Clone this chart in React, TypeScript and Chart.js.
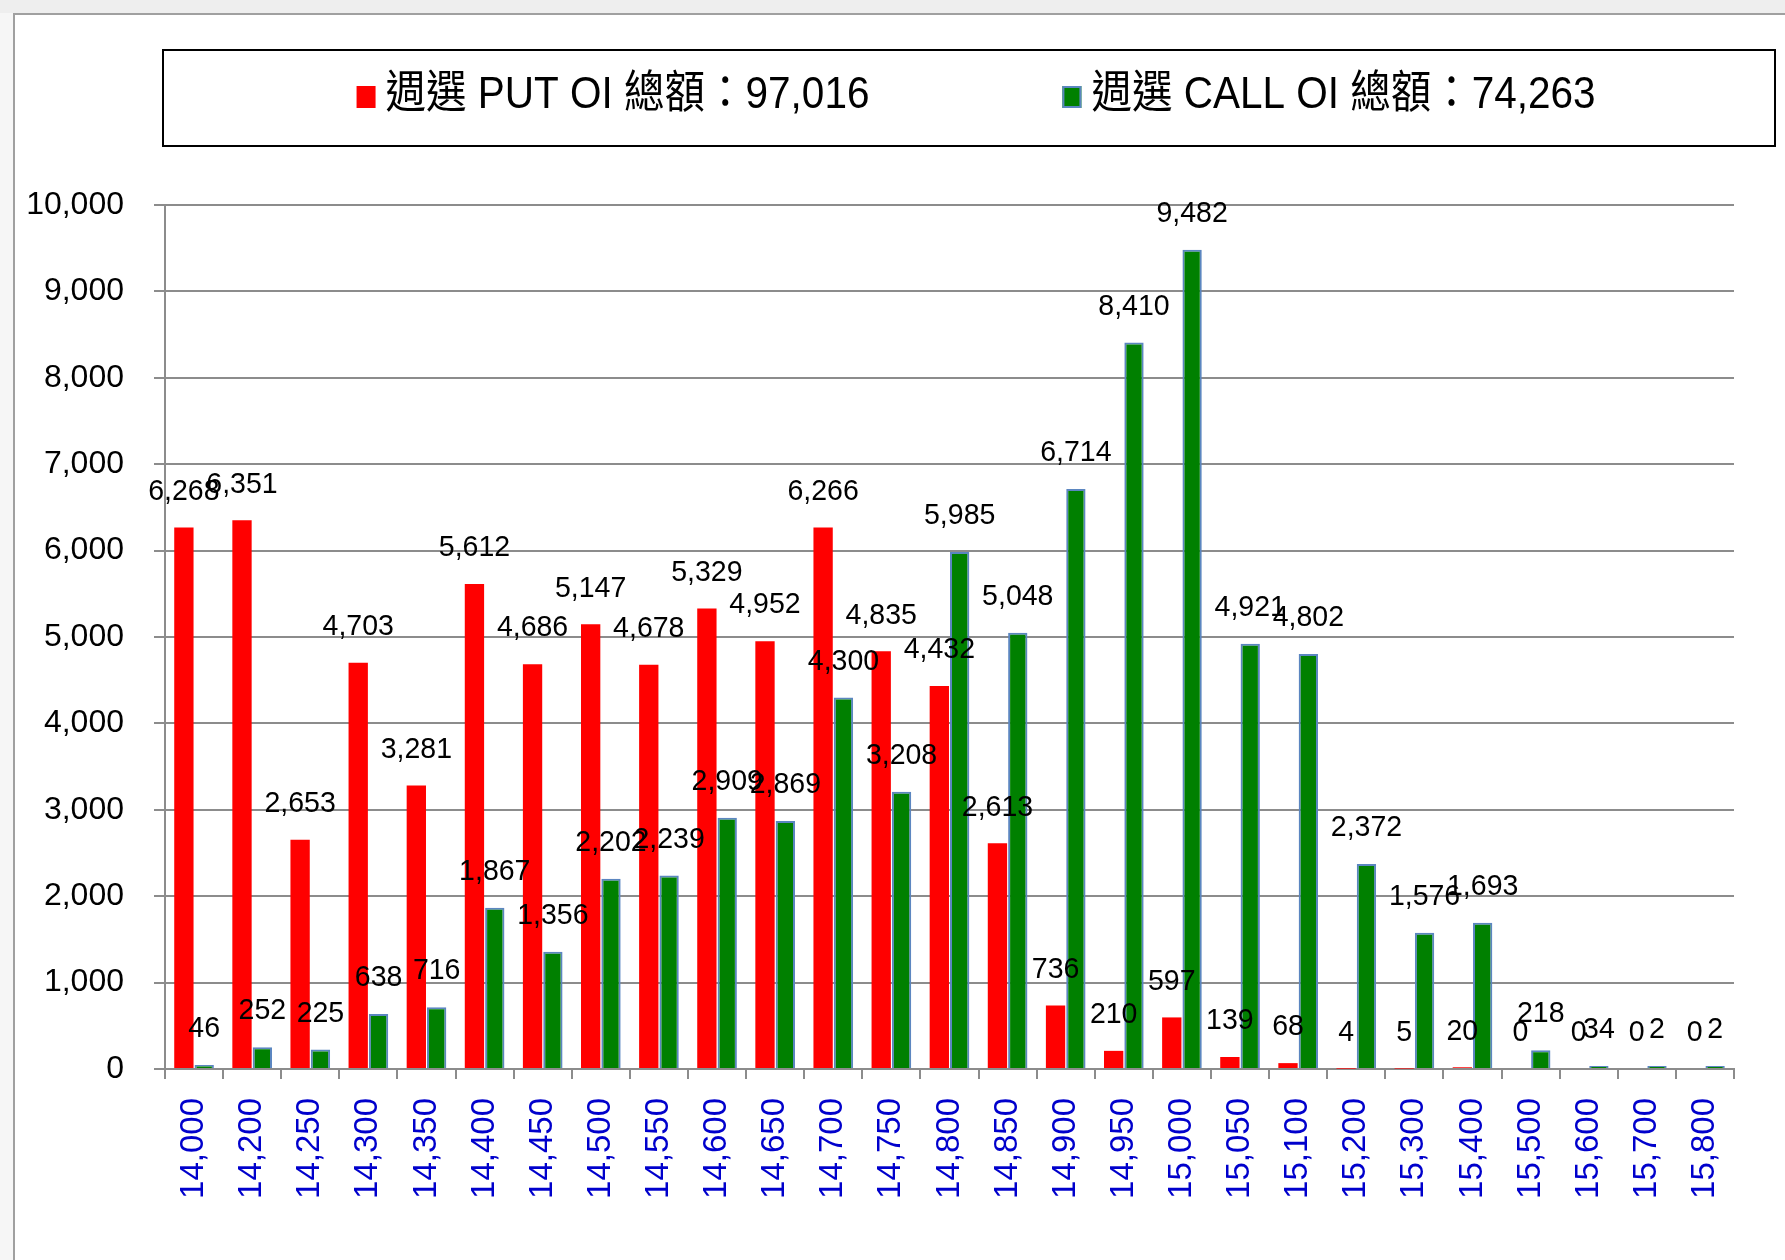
import React, { useEffect, useRef } from 'react';
import { Chart, registerables } from 'chart.js';

Chart.register(...registerables);

const categories = [
  '14,000', '14,200', '14,250', '14,300', '14,350', '14,400', '14,450', '14,500', '14,550',
  '14,600', '14,650', '14,700', '14,750', '14,800', '14,850', '14,900', '14,950', '15,000',
  '15,050', '15,100', '15,200', '15,300', '15,400', '15,500', '15,600', '15,700', '15,800',
];

const putValues = [
  6268, 6351, 2653, 4703, 3281, 5612, 4686, 5147, 4678,
  5329, 4952, 6266, 4835, 4432, 2613, 736, 210, 597,
  139, 68, 4, 5, 20, 0, 0, 0, 0,
];

const callValues = [
  46, 252, 225, 638, 716, 1867, 1356, 2202, 2239,
  2909, 2869, 4300, 3208, 5985, 5048, 6714, 8410, 9482,
  4921, 4802, 2372, 1576, 1693, 218, 34, 2, 2,
];

const seriesLabels = ['週選 PUT OI 總額：97,016', '週選 CALL OI 總額：74,263'];

const yMin = 0;
const yMax = 10000;
const yStep = 1000;

const W = 1785;
const H = 1260;
const SANS = "'Liberation Sans', Arial, Helvetica, sans-serif";
const LEGEND_FONT = "'Liberation Sans', Arial, 'Noto Sans CJK TC', sans-serif";
const GRID = '#8c8c8c';

const fmt = (v: number) => Number(v).toLocaleString('en-US');

const framePlugin = {
  id: 'frame',
  beforeDraw(chart: any) {
    const ctx = chart.ctx;
    ctx.save();
    ctx.fillStyle = '#ffffff';
    ctx.fillRect(0, 0, W, H);
    ctx.fillStyle = '#eeeeee';
    ctx.fillRect(0, 0, W, 13);
    ctx.fillStyle = '#f6f6f6';
    ctx.fillRect(0, 13, 13, H - 13);
    ctx.strokeStyle = '#a0a0a0';
    ctx.lineWidth = 2;
    ctx.beginPath();
    ctx.moveTo(14, H);
    ctx.lineTo(14, 14);
    ctx.lineTo(W, 14);
    ctx.stroke();
    ctx.restore();
  },
};

const legendPlugin = {
  id: 'boxLegend',
  afterDraw(chart: any) {
    const ctx = chart.ctx;
    ctx.save();
    ctx.strokeStyle = '#000';
    ctx.lineWidth = 2;
    ctx.strokeRect(163, 50, 1612, 96);
    const centers = [613, 1329];
    ctx.font = `45px ${LEGEND_FONT}`;
    ctx.textBaseline = 'middle';
    ctx.textAlign = 'left';
    chart.data.datasets.forEach((ds: any, i: number) => {
      const text = ds.label as string;
      const scaleX = 0.9;
      const tw = ctx.measureText(text).width * scaleX;
      const boxW = 19;
      const gap = 10;
      const total = boxW + gap + tw;
      const x0 = centers[i] - total / 2;
      const cy = 96;
      ctx.fillStyle = ds.backgroundColor;
      ctx.fillRect(x0, cy - 10, boxW, 22);
      if (ds.borderWidth) {
        ctx.strokeStyle = ds.borderColor;
        ctx.lineWidth = 2;
        ctx.strokeRect(x0 + 1, cy - 9, boxW - 2, 20);
      }
      ctx.fillStyle = '#000';
      ctx.save();
      ctx.translate(x0 + boxW + gap, cy);
      ctx.scale(scaleX, 1);
      ctx.fillText(text, 0, 0);
      ctx.restore();
    });
    ctx.restore();
  },
};

const dataLabelPlugin = {
  id: 'valueLabels',
  afterDatasetsDraw(chart: any) {
    const ctx = chart.ctx;
    ctx.save();
    ctx.font = `30px ${SANS}`;
    ctx.fillStyle = '#000';
    ctx.textAlign = 'center';
    ctx.textBaseline = 'middle';
    chart.data.datasets.forEach((ds: any, di: number) => {
      const meta = chart.getDatasetMeta(di);
      meta.data.forEach((bar: any, i: number) => {
        const v = ds.data[i];
        if (v === null || v === undefined) return;
        ctx.save();
        ctx.translate(bar.x, bar.y - 36);
        ctx.scale(0.95, 1);
        ctx.fillText(fmt(v), 0, 0);
        ctx.restore();
      });
    });
    ctx.restore();
  },
};

export default function App() {
  const canvasRef = useRef<HTMLCanvasElement | null>(null);

  useEffect(() => {
    document.body.style.margin = '0';
    document.body.style.overflow = 'hidden';
    const canvas = canvasRef.current;
    if (!canvas) return;
    const chart = new Chart(canvas, {
      type: 'bar',
      data: {
        labels: categories,
        datasets: [
          {
            label: seriesLabels[0],
            data: putValues,
            backgroundColor: '#ff0000',
            borderWidth: 0,
            categoryPercentage: 0.7,
            barPercentage: 0.95,
          },
          {
            label: seriesLabels[1],
            data: callValues,
            backgroundColor: '#008000',
            borderColor: '#5b86c0',
            borderWidth: 2,
            minBarLength: 3,
            categoryPercentage: 0.7,
            barPercentage: 0.95,
          },
        ],
      },
      options: {
        animation: false,
        responsive: false,
        devicePixelRatio: 1,
        layout: { padding: { left: 15, right: 51, top: 205, bottom: 20 } },
        plugins: {
          legend: { display: false },
          tooltip: { enabled: false },
        },
        scales: {
          x: {
            offset: true,
            grid: {
              display: true,
              offset: true,
              drawOnChartArea: false,
              drawTicks: true,
              tickLength: 10,
              color: GRID,
              lineWidth: 2,
            },
            border: { display: true, color: GRID, width: 2 },
            ticks: {
              color: '#0000cc',
              font: { family: SANS, size: 33 },
              minRotation: 90,
              maxRotation: 90,
              autoSkip: false,
              padding: 19,
            },
            afterFit: (s: any) => {
              s.height = 171;
            },
          },
          y: {
            min: yMin,
            max: yMax,
            ticks: {
              stepSize: yStep,
              color: '#000',
              font: { family: SANS, size: 32 },
              padding: 30,
              callback: (v: any) => fmt(v),
            },
            grid: { color: GRID, lineWidth: 2, tickLength: 11, drawTicks: true },
            border: { display: true, color: GRID, width: 2 },
            afterFit: (s: any) => {
              s.width = 150;
            },
          },
        },
      },
      plugins: [framePlugin, dataLabelPlugin, legendPlugin],
    });
    return () => chart.destroy();
  }, []);

  return (
    <div style={{ position: 'absolute', left: 0, top: 0, width: W, height: H }}>
      <canvas ref={canvasRef} width={W} height={H} style={{ display: 'block', width: W, height: H }} />
    </div>
  );
}
